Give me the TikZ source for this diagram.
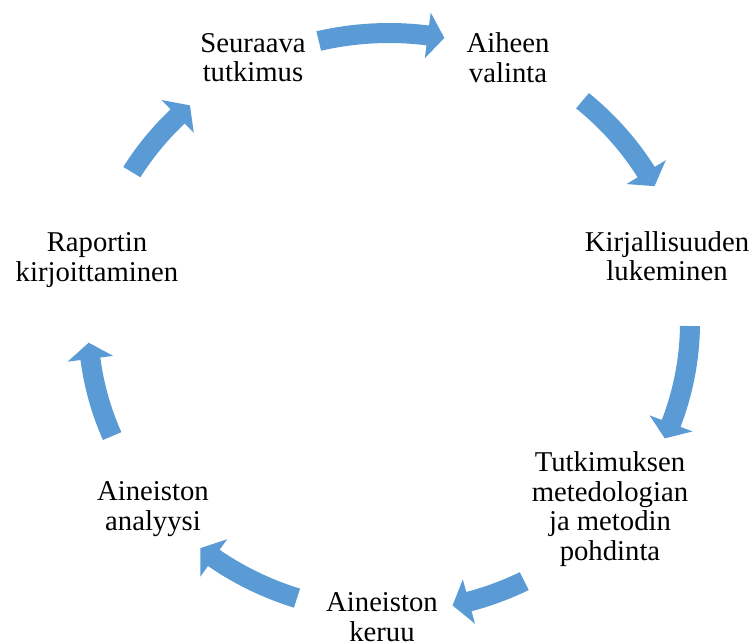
\documentclass[tikz,border=0pt]{standalone}
\usepackage{fontspec}
\setmainfont{Liberation Serif}
\definecolor{arrowblue}{HTML}{5B9BD5}
\tikzset{
  lbl/.style={align=center, inner sep=0pt, font=\fontsize{28.7}{29.5}\selectfont},
  cyclefill/.style={fill=arrowblue, draw=none}
}
% #1 tail angle, #2 tip angle (clockwise: #1 > #2)
\newcommand\cyclearrow[2]{%
  \pgfmathsetmacro\hb{#2+3.2}%
  \fill[cyclefill] plot[domain=#1:\hb, samples=40] ({311*cos(\x)},{-299.5*sin(\x)})
    -- ({324*cos(\hb)},{-312.5*sin(\hb)})
    -- ({301*cos(#2)},{-289.5*sin(#2)})
    -- ({278*cos(\hb)},{-266.5*sin(\hb)})
    -- plot[domain=\hb:#1, samples=40] ({291*cos(\x)},{-279.5*sin(\x)}) -- cycle;
}
\begin{document}
\begin{tikzpicture}[x=1pt,y=-1pt]
\useasboundingbox (0,0) rectangle (753,641);
\begin{scope}[shift={(389,322.5)}]
  \cyclearrow{103.5}{79.4}
  \cyclearrow{50}{28.1}
  \cyclearrow{-0.7}{-23.6}
  \cyclearrow{-63.3}{-77.8}
  \cyclearrow{-107.8}{-128.8}
  \cyclearrow{203.1}{184}
  \cyclearrow{148.7}{131.4}
\end{scope}
\node[lbl] (seur) at (253,57.5) {Seuraava\\tutkimus};
\node[lbl] (aihe) at (508,57.5) {Aiheen\\valinta};
\node[lbl] (kirj) at (667,256) {Kirjallisuuden\\lukeminen};
\node[lbl] (tutk) at (610,509) {Tutkimuksen\\metedologian\\ja metodin\\pohdinta};
\node[lbl] (keru) at (382,617) {Aineiston\\keruu};
\node[lbl] (anal) at (153,509) {Aineiston\\analyysi};
\node[lbl] (rapo) at (97,260) {Raportin\\kirjoittaminen};
\end{tikzpicture}
\end{document}
